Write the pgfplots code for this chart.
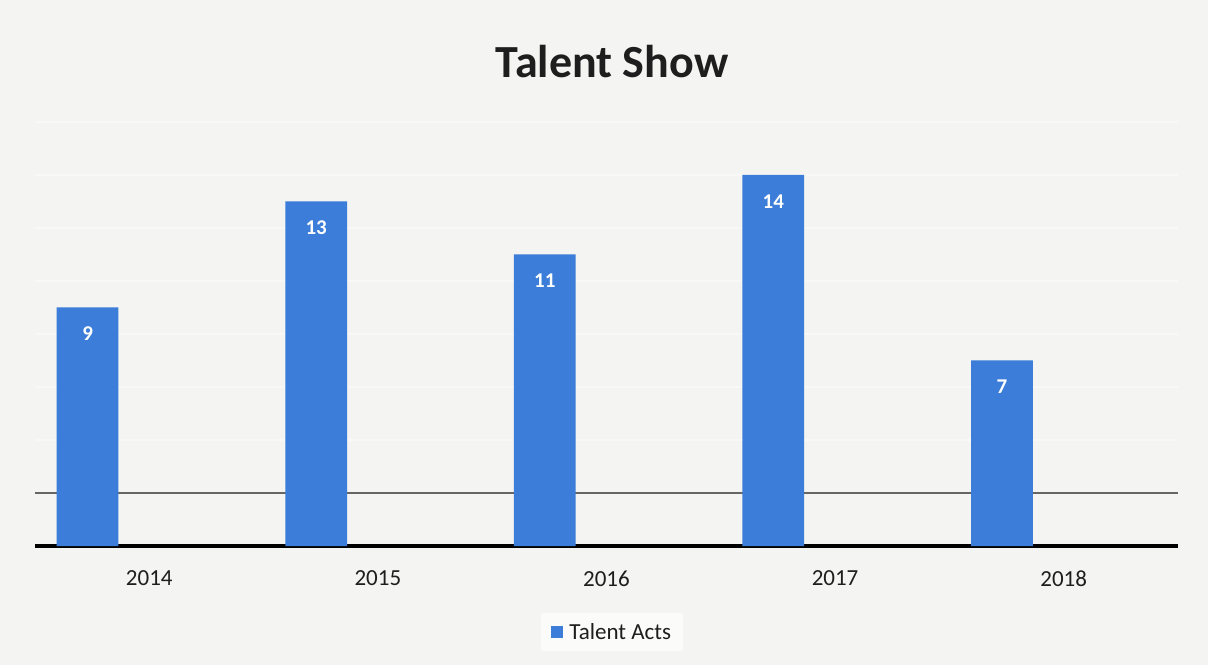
\documentclass[border=0pt]{standalone}
\usepackage{pgfplots}
\pgfplotsset{compat=1.18}
\usepackage{fontspec}
\setmainfont{Carlito}
\definecolor{barblue}{HTML}{3B7DD8}
\definecolor{bg}{HTML}{F4F4F2}
\definecolor{faintgrid}{HTML}{F8F8F6}
\definecolor{legbg}{HTML}{FBFBFA}
\definecolor{txt}{HTML}{1E1E1E}
\begin{document}
\begin{tikzpicture}
\useasboundingbox (0,0) rectangle (1208bp,665bp);
\fill[bg] (0,0) rectangle (1208bp,665bp);
\node[font=\fontsize{46bp}{50bp}\selectfont\bfseries, text=txt] at (612bp,603bp) {Talent Show};
\begin{axis}[
  at={(35bp,119bp)}, anchor=south west,
  width=1143bp, height=424bp, scale only axis,
  xmin=-0.5, xmax=4.5, ymin=0, ymax=16,
  /pgf/number format/assume math mode=true,
  axis x line*=bottom, axis y line*=left,
  y axis line style={draw=none},
  x axis line style={-, line width=3.5bp, black},
  xtick={0,1,2,3,4},
  xticklabels={2014,2015,2016,2017,2018},
  major tick length=0pt,
  xticklabel style={font=\fontsize{23bp}{26bp}\selectfont, text=txt, yshift=-21bp},
  ytick={2,4,6,8,10,12,14,16},
  yticklabels={},
  ymajorgrids,
  grid style={faintgrid, line width=1.2bp},
  extra y ticks={2},
  extra y tick labels={},
  extra y tick style={grid=major, grid style={gray!80!black, line width=1.3bp}},
  ybar, bar width=0.27, bar shift=-0.27,
  nodes near coords,
  every node near coord/.append style={anchor=north, yshift=-16bp, text=white, font=\fontsize{21bp}{24bp}\selectfont\bfseries},
  legend style={at={(0.505,-0.203)}, anchor=center, draw=none, fill=legbg,
    font=\fontsize{23bp}{26bp}\selectfont, text=txt, inner xsep=10bp, inner ysep=8bp},
  legend image code/.code={\fill[barblue] (0bp,-6bp) rectangle (12bp,6bp);},
  legend cell align=left,
  clip=false,
]
\addplot[fill=barblue, draw=none] coordinates {(0,9) (1,13) (2,11) (3,14) (4,7)};
\addlegendentry{\hspace{4bp}Talent Acts}
\end{axis}
\end{tikzpicture}
\end{document}
